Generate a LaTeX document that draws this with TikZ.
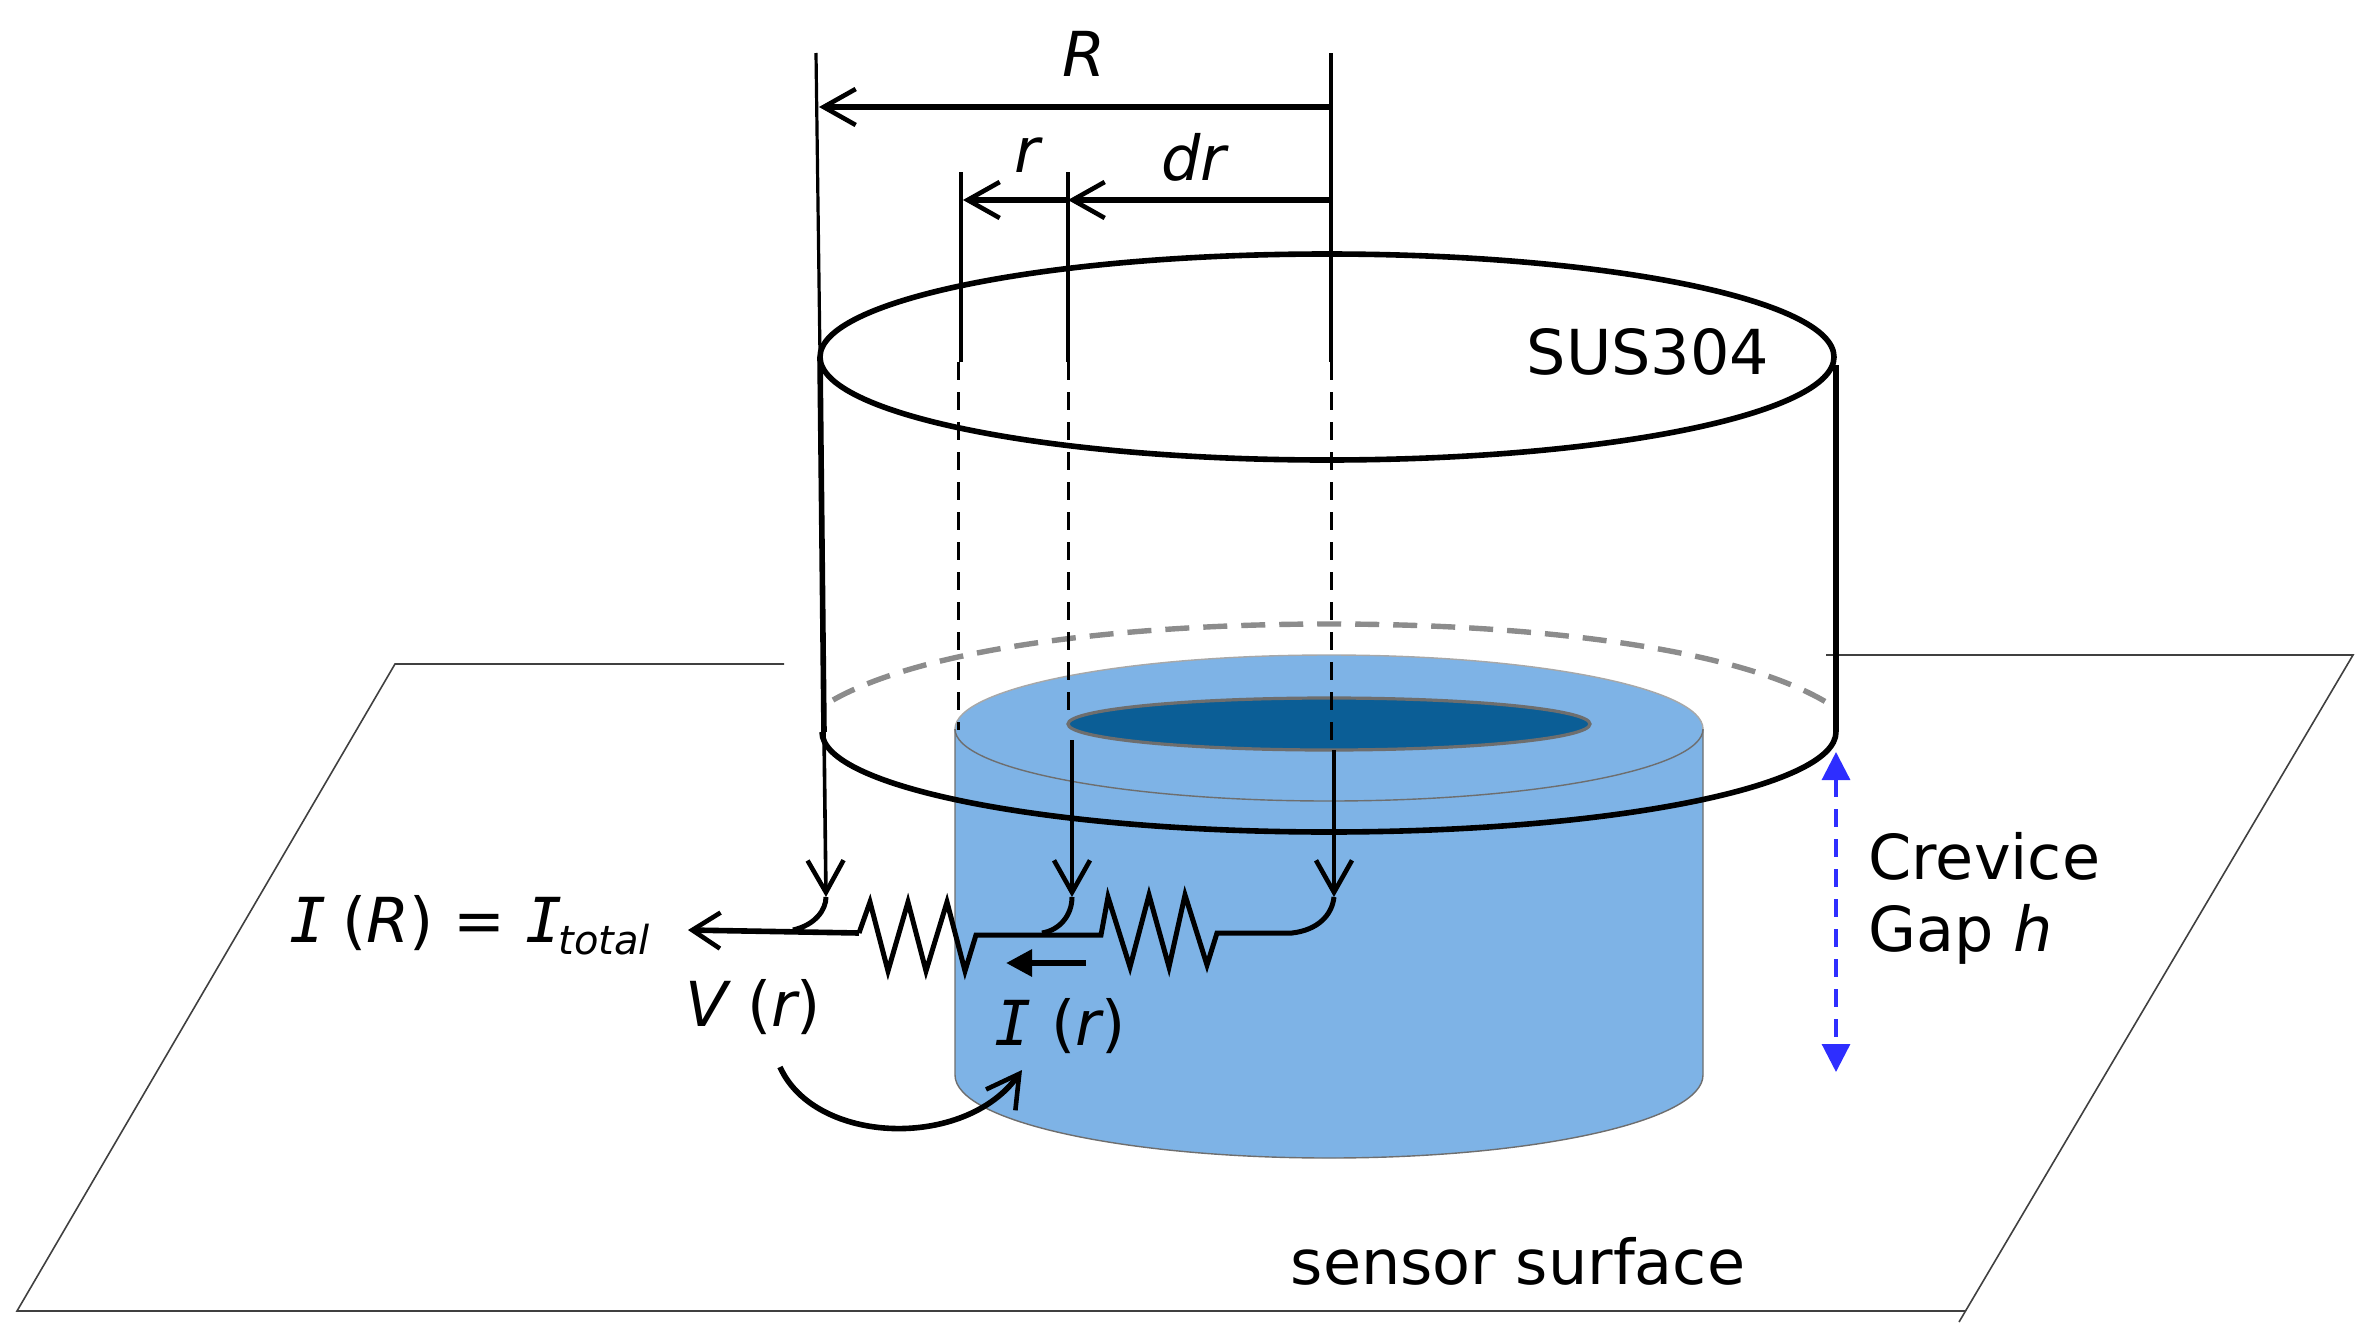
\documentclass[tikz,border=0pt]{standalone}
\usepackage{fontspec}
\setmainfont{DejaVu Sans}
\setmonofont{DejaVu Sans Mono}
\usetikzlibrary{arrows.meta}
\definecolor{cylblue}{HTML}{7EB3E6}
\definecolor{darkblue}{HTML}{0B5E96}
\definecolor{rimgray}{HTML}{6E6E6E}
\definecolor{gapblue}{HTML}{2E2EFF}
\newcommand{\mI}{{\ttfamily\itshape I}}
\tikzset{
  x=.5pt,y=-.5pt,
  lbl/.style={inner sep=0pt,font=\fontsize{31}{36}\selectfont,text=black},
  plate/.style={draw=black!75,line width=.8pt,line join=miter},
  guide/.style={draw=black,line width=1.6pt},
  guidedash/.style={draw=black,line width=1.5pt,dash pattern=on 9pt off 6pt},
  thickrim/.style={draw=black,line width=2.8pt},
  barb/.style={-{Straight Barb[length=16pt,width=18pt,line width=2.3pt]}},
  dim/.style={draw=black,line width=2.6pt,barb},
  wire/.style={draw=black,line width=2.5pt,line join=miter,miter limit=6},
}
\begin{document}
\begin{tikzpicture}
\useasboundingbox (0,0) rectangle (2372,1328);
% plate
\coordinate (p1) at (784,664); \coordinate (p2) at (395,664); \coordinate (p3) at (17,1311);
\coordinate (p4) at (1965,1311); \coordinate (p5) at (2353,655); \coordinate (p6) at (1826,655);
\coordinate (p7) at (1959,1322);
\draw[plate] (p1) -- (p2) -- (p3) -- (p4);
\draw[plate] (p7) -- (p5) -- (p6);
% dashed far rim
\draw[draw=black!45,line width=2.7pt,dash pattern=on 12pt off 7pt] (833,700) .. controls (925,648) and (1125,624) .. (1329,624) .. controls (1535,624) and (1735,648) .. (1826,702);
% blue cylinder
\fill[cylblue] (955,729) -- (955,1075) arc[start angle=180,end angle=0,x radius=374,y radius=83] -- (1703,729) arc[start angle=0,end angle=-180,x radius=374,y radius=74] -- cycle;
\draw[draw=rimgray,line width=.7pt] (955,729) -- (955,1075) arc[start angle=180,end angle=0,x radius=374,y radius=83] -- (1703,729);
\draw[draw=rimgray,line width=.7pt] (955,729) arc[start angle=180,end angle=0,x radius=374,y radius=72];
\draw[draw=rimgray!60,line width=.7pt] (955,729) arc[start angle=180,end angle=360,x radius=374,y radius=74];
% hole
\draw[draw=rimgray,line width=1.6pt,fill=darkblue] (1329,724) ellipse[x radius=261,y radius=26];
% metal cylinder
\draw[thickrim] (1327,357) ellipse[x radius=507,y radius=103];
\draw[thickrim] (822,732) arc[start angle=180,end angle=0,x radius=507,y radius=100];
\draw[thickrim] (820,357) -- (824,732);
\draw[thickrim] (1836,365) -- (1836,732);
% guide coordinates
\coordinate (gl) at (816,53); \coordinate (gr) at (1331,53);
\coordinate (gra) at (961,172); \coordinate (grb) at (1068,172);
\coordinate (ta) at (826,897); \coordinate (tb) at (1072,897); \coordinate (tc) at (1334,897);
\draw[guide] (gl) -- (820,357);
\draw[guide] (gr) -- (1331,362);
\draw[guide] (gra) -- (961,362);
\draw[guide] (grb) -- (1068,362);
\draw[guidedash] (958,362) -- (958,730);
\draw[guidedash] (1068,362) -- (1068,720);
\draw[guidedash] (1331,362) -- (1331,750);
\draw[guide,line width=1.8pt,barb] (824,732) -- (ta);
\draw[guide,line width=2pt,barb] (1072,740) -- (tb);
\draw[guide,line width=2pt,barb] (1334,750) -- (tc);
% dimension arrows
\draw[dim] (1331,107) -- (819,107);
\draw[dim] (1331,200) -- (1068,200);
\draw[dim] (1068,200) -- (963,200);
% circuit
\coordinate (out) at (688,930);
\draw[wire,line width=2.8pt,-{Straight Barb[length=14pt,width=18pt,line width=2.3pt]}] (859,933) -- (out);
\draw[wire] (793,930) .. controls (815,925) and (826,910) .. (ta);
\draw[wire] (859,933) -- (870,902) -- (888,971) -- (908,902) -- (926,971) -- (947,902) -- (965,971) -- (976,935) -- (1101,935)
 -- (1108,897) -- (1130,967) -- (1149,895) -- (1169,967) -- (1185,895) -- (1207,965) -- (1217,933) -- (1292,933)
 .. controls (1318,930) and (1332,915) .. (tc);
\draw[wire] (1042,933) .. controls (1060,930) and (1072,915) .. (tb);
\draw[draw=black,line width=3pt,-{Triangle[length=13pt,width=13pt]}] (1086,963) -- (1006,963);
% labels
\node[lbl] (R) at (1084,54) {\itshape R};
\node[lbl] (r) at (1027,155) {\itshape r};
\node[lbl] (dr) at (1194,157) {\itshape dr};
\node[lbl] (sus) at (1648,352) {SUS304};
\node[lbl,anchor=base west] (itot) at (289,942) {\mI\hspace{-2pt}\ ({\itshape R}) = \mI\hspace{-2pt}{\fontsize{20}{24}\selectfont\itshape\raisebox{-6pt}{total}}};
\node[lbl] (vr) at (753,1007) {{\itshape V} ({\itshape r})};
\node[lbl] (ir) at (1060,1026) {\mI\ ({\itshape r})};
\node[lbl,anchor=west] (cr) at (1868,856) {Crevice};
\node[lbl,anchor=west] (gap) at (1868,934) {Gap {\itshape h}};
\node[lbl] (sens) at (1518,1261) {sensor surface};
% current arrow V -> I
\coordinate (vrs) at (780,1067); \coordinate (irt) at (1022,1070);
\draw[draw=black,line width=2.8pt,-{Straight Barb[length=16pt,width=18pt,line width=2.3pt]}] (vrs) .. controls (815,1145) and (965,1150) .. (irt);
% blue gap
\coordinate (ga) at (1836,752); \coordinate (gb) at (1836,1072);
\draw[draw=gapblue,line width=1.6pt,dash pattern=on 9pt off 6pt,{Triangle[length=14pt,width=14pt]}-{Triangle[length=14pt,width=14pt]}] (ga) -- (gb);
\end{tikzpicture}
\end{document}
